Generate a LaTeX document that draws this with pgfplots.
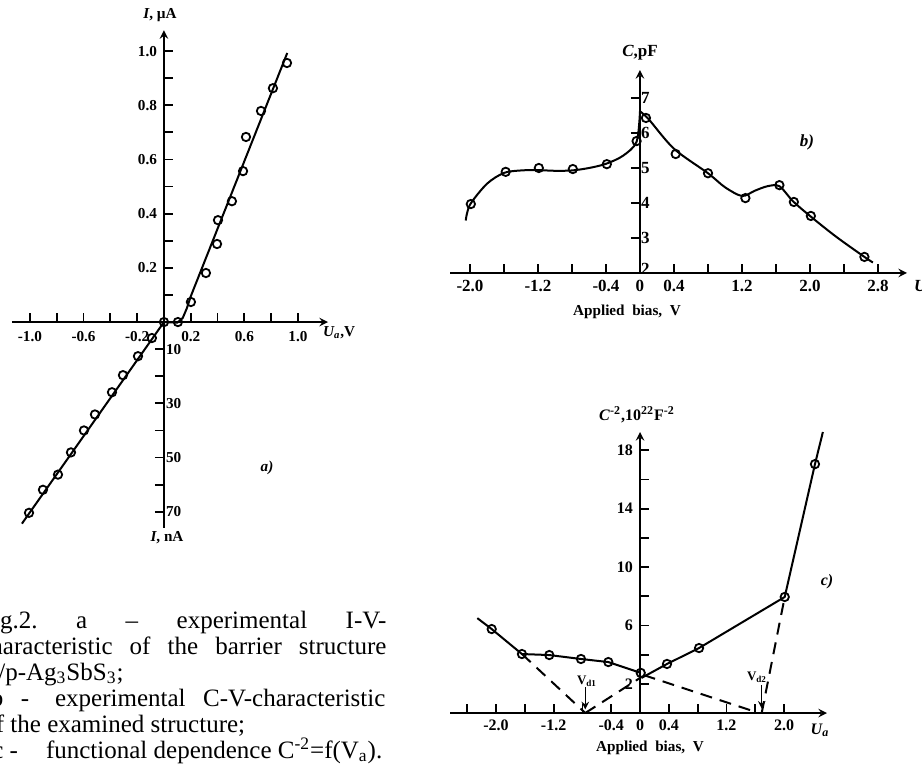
\documentclass[border=0pt]{standalone}
\usepackage{fontspec}
\setmainfont{Liberation Serif}
\usepackage{pgfplots}
\pgfplotsset{compat=1.18}
\usepackage{pgfplotstable}
\frenchspacing

% a) I-V, forward branch (V, uA)
\pgfplotstableread{
x y
0.000 0.000
0.104 0.000
0.201 0.074
0.313 0.181
0.396 0.288
0.403 0.376
0.507 0.446
0.590 0.557
0.612 0.683
0.724 0.779
0.813 0.863
0.918 0.956
}\ivfwd
% a) reverse branch (V, nA)
\pgfplotstableread{
x n
-0.090 5.9
-0.194 12.6
-0.306 19.6
-0.388 25.9
-0.515 34.1
-0.597 40.0
-0.694 48.1
-0.791 56.3
-0.903 61.9
-1.007 70.4
}\ivrev
% b) C-V (V, pF)
\pgfplotstableread{
x c
-1.99 3.97
-1.58 4.89
-1.19 5.00
-0.79 4.97
-0.39 5.11
-0.04 5.77
0.07 6.43
0.42 5.40
0.80 4.85
1.24 4.14
1.64 4.51
1.81 4.03
2.01 3.63
2.64 2.46
}\cv
% c) C^-2 (V, 1e22 F^-2)
\pgfplotstableread{
x c
-2.06 5.75
-1.64 4.04
-1.26 3.97
-0.82 3.70
-0.44 3.49
0.01 2.75
0.375 3.36
0.82 4.45
2.01 7.95
2.43 17.05
}\cmt

\pgfplotsset{
  panel/.style={scale only axis, axis lines=middle, anchor=south west,
    axis line style={line width=0.9pt}, tick style={line width=0.9pt, black},
    major tick length=4.5pt, tick align=inside,
    hide obscured x ticks=false, hide obscured y ticks=false,
    clip=false},
  pts/.style={only marks, mark=o, mark size=2.1pt,
    mark options={line width=0.9pt, fill=white, solid}},
  crv/.style={no marks, line width=1pt, black},
}

\begin{document}
\begin{tikzpicture}
\path[use as bounding box] (0,0) rectangle (461pt,391.5pt);

% ---- a) ----
\begin{axis}[panel, at={(6pt,127.5pt)}, width=158pt, height=248.9pt,
  xmin=-1.134, xmax=1.224, ymin=-0.760, ymax=1.077,
  xtick={-1,-0.8,-0.6,-0.4,-0.2,0.2,0.4,0.6,0.8,1},
  xticklabels={-1.0,,-0.6,,-0.2,0.2,,0.6,,1.0},
  ytick={0.1,0.2,0.3,0.4,0.5,0.6,0.7,0.8,0.9,1.0},
  yticklabels={,0.2,,0.4,,0.6,,0.8,,1.0},
  extra y ticks={-0.1,-0.2,-0.3,-0.4,-0.5,-0.6,-0.7},
  extra y tick labels={10,,30,,50,,70},
  extra y tick style={ytick align=outside, yticklabel style={anchor=west, xshift=2pt}},
  ticklabel style={font=\fontsize{7.6}{8}\selectfont\bfseries},
  xticklabel style={yshift=-1pt}]
\addplot[crv] coordinates {(0,0) (0.1,-0.002) (0.14,0.015) (0.17,0.05) (0.2,0.095) (0.92,0.993)};
\addplot[crv] table[x=x, y expr=-\thisrow{n}/100] {
x n
0 0
-1.06 74.4
};
\addplot[pts] table[x=x, y=y] {\ivfwd};
\addplot[pts] table[x=x, y expr=-\thisrow{n}/100] {\ivrev};
\end{axis}

% ---- b) ----
\begin{axis}[panel, at={(225pt,255pt)}, width=228.5pt, height=101.5pt,
  xmin=-2.235, xmax=3.141, ymin=2, ymax=7.8,
  xtick={-2,-1.6,-1.2,-0.8,-0.4,0,0.4,0.8,1.2,1.6,2,2.4,2.8},
  xticklabels={-2.0,,-1.2,,-0.4,0,0.4,,1.2,,2.0,,2.8},
  ytick={2,3,4,5,6,7}, yticklabels={\raisebox{4.5pt}{2},3,4,5,6,7},
  ytick align=outside,
  yticklabel style={anchor=west, xshift=1.5pt},
  ticklabel style={font=\fontsize{8.5}{9}\selectfont\bfseries}]
\addplot[crv, smooth, tension=0.5] coordinates {(-2.05,3.5) (-2.0,3.95) (-1.8,4.55) (-1.6,4.86) (-1.4,4.93) (-1.2,4.94) (-1.0,4.92) (-0.8,4.93) (-0.6,5.0) (-0.4,5.12) (-0.2,5.35) (-0.04,5.75) (0,6.62)};
\addplot[crv, smooth, tension=0.5] coordinates {(0,6.62) (0.1,6.4) (0.4,5.55) (0.8,4.85) (1.0,4.45) (1.2,4.2) (1.35,4.35) (1.5,4.48) (1.64,4.48) (1.8,4.05) (2.0,3.63) (2.3,3.05) (2.64,2.46) (2.74,2.3)};
\addplot[pts] table[x=x, y=c] {\cv};
\end{axis}

% ---- c) ----
\begin{axis}[panel, at={(225pt,35pt)}, width=188.5pt, height=140.5pt,
  xmin=-2.639, xmax=2.597, ymin=0, ymax=19.25,
  xtick={-2.4,-2,-1.6,-1.2,-0.8,-0.4,0,0.4,0.8,1.2,1.6,2},
  xticklabels={,-2.0,,-1.2,,-0.4,0,0.4,,1.2,,2.0},
  ytick={2,4,6,8,10,12,14,16,18},
  yticklabels={2,,6,,10,,14,,18},
  ticklabel style={font=\fontsize{8}{9}\selectfont\bfseries}]
\addplot[crv] coordinates {(-2.26,6.5) (-2.06,5.75) (-1.64,4.04) (-1.26,3.97) (-0.82,3.70) (-0.44,3.49) (0.01,2.75)};
\addplot[crv] coordinates {(0.02,2.4) (0.375,3.36) (0.82,4.45) (2.01,7.95) (2.43,17.05) (2.54,19.25)};
\addplot[crv, dash pattern=on 6pt off 4pt] coordinates {(-1.64,4.04) (-0.76,0)};
\addplot[crv, dash pattern=on 6pt off 4pt] coordinates {(-0.76,0) (0,2.4)};
\addplot[crv, dash pattern=on 6pt off 4pt] coordinates {(0.05,2.6) (1.62,0.05)};
\addplot[crv, dash pattern=on 6pt off 4pt] coordinates {(1.69,0) (2.01,7.95)};
\addplot[pts] table[x=x, y=c] {\cmt};
\draw[-stealth, line width=0.7pt] (axis cs:-0.76,1.75) -- (axis cs:-0.76,0.25);
\draw[-stealth, line width=0.7pt] (axis cs:1.69,1.9) -- (axis cs:1.69,0.3);
\end{axis}

% ---- labels, in pixel coordinates of the reference ----
\begin{scope}[shift={(0pt,391.5pt)}, x=0.5pt, y=-0.5pt, font=\fontsize{7.6}{8}\selectfont\bfseries]
\node at (160,15) {\textit{I}, µA};
\node at (167,538) {\textit{I}, nA};
\node[anchor=west] at (316,333) {\textit{U\textsubscript{a}},V};
\node at (267,468) {\textit{a)}};
\node[font=\fontsize{8.5}{9}\selectfont\bfseries] at (640,53) {\textit{C},pF};
\node[font=\fontsize{8.5}{9}\selectfont\bfseries] at (807,142) {\textit{b)}};
\node[anchor=west, font=\fontsize{8.5}{9}\selectfont\bfseries] at (907,287) {\textit{U\textsubscript{a}}};
\node[font=\fontsize{7.6}{9}\selectfont\bfseries] at (627,312) {Applied\ \ bias,\ \ V};
\node[font=\fontsize{8}{9}\selectfont\bfseries] at (637,415) {\textit{C}\textsuperscript{-2},10\textsuperscript{22}F\textsuperscript{-2}};
\node[font=\fontsize{8}{9}\selectfont\bfseries] at (827,582) {\textit{c)}};
\node[font=\fontsize{8}{9}\selectfont\bfseries] at (820,730) {\textit{U\textsubscript{a}}};
\node[font=\fontsize{7.6}{9}\selectfont\bfseries] at (650,748) {Applied\ \ bias,\ \ V};
\node[font=\fontsize{6.5}{7}\selectfont\bfseries] at (587,681) {V\textsubscript{d1}};
\node[font=\fontsize{6.5}{7}\selectfont\bfseries] at (757,677) {V\textsubscript{d2}};
% caption (its left edge is cut off in the reference)
\begin{scope}[font=\fontsize{12.5}{14}\selectfont]
\node[anchor=base west, inner sep=0pt] at (-21,628) {\makebox[203.5pt][s]{Fig.2. a – experimental I-V-}};
\node[anchor=base west, inner sep=0pt] at (-21,654) {\makebox[203.5pt][s]{characteristic of the barrier structure}};
\node[anchor=base west, inner sep=0pt] at (-2,680) {/p-Ag\textsubscript{3}SbS\textsubscript{3};};
\node[anchor=base west, inner sep=0pt] at (-9.5,706) {\makebox[197.25pt][s]{b -\hspace{13pt}experimental C-V-characteristic}};
\node[anchor=base west, inner sep=0pt] at (-17,732) {of the examined structure;};
\node[anchor=base west, inner sep=0pt] at (-8,758) {c -\hspace{14pt}functional dependence C\textsuperscript{-2}=f(V\textsubscript{a}).};
\end{scope}
\end{scope}
\end{tikzpicture}
\end{document}
